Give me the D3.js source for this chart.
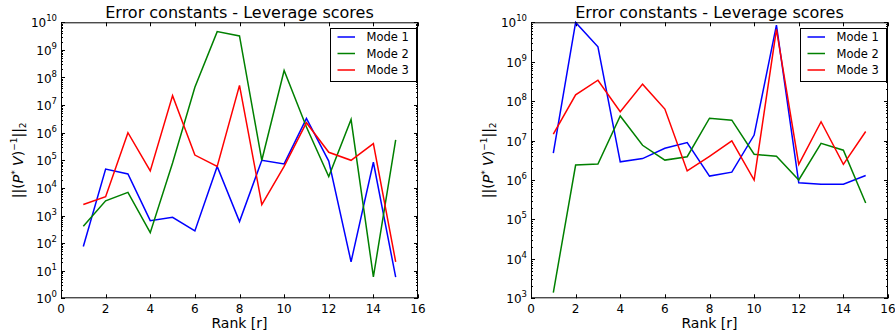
<!DOCTYPE html>
<html>
<head>
<meta charset="utf-8">
<script src="https://cdn.jsdelivr.net/npm/d3@7"></script>
<style>
  body { margin: 0; background: #fff; }
  svg { display: block; font-family: "DejaVu Sans", sans-serif; }
</style>
</head>
<body>
<div id="chart"></div>
<script>
const WIDTH = 895;
const HEIGHT = 333;

const ranks = [1, 2, 3, 4, 5, 6, 7, 8, 9, 10, 11, 12, 13, 14, 15];
const modeNames = ['Mode 1', 'Mode 2', 'Mode 3'];
const modeColors = ['#0000ff', '#008000', '#ff0000'];
const xTicks = [0, 2, 4, 6, 8, 10, 12, 14, 16];

// left panel
const leftMode1 = [75, 4.8e4, 3.2e4, 650, 860, 275, 6e4, 600, 1.0e5, 7.4e4, 3.3e6, 9.4e4, 21, 8.5e4, 5.8];
const leftMode2 = [410, 3400, 6900, 240, 8e4, 4.4e7, 4.6e9, 3.2e9, 1.0e5, 1.8e8, 1.6e6, 2.6e4, 3.0e6, 6, 5.5e5];
const leftMode3 = [2500, 4800, 1.0e6, 4.1e4, 2.2e7, 1.55e5, 6e4, 5.2e7, 2500, 6e4, 2.3e6, 1.95e5, 1.0e5, 4e5, 21];
const leftExponents = [0, 1, 2, 3, 4, 5, 6, 7, 8, 9, 10];

// right panel
const rightMode1 = [4.8e6, 9.9e9, 2.4e9, 2.9e6, 3.5e6, 6.4e6, 8.9e6, 1.26e6, 1.58e6, 1.38e7, 8.5e9, 8.5e5, 7.8e5, 7.8e5, 1.3e6];
const rightMode2 = [1.4e3, 2.4e6, 2.55e6, 4.2e7, 7.6e6, 3.2e6, 3.9e6, 3.7e7, 3.3e7, 4.5e6, 4.0e6, 1.0e6, 8.5e6, 5.7e6, 2.6e5];
const rightMode3 = [1.45e7, 1.45e8, 3.4e8, 5.4e7, 2.7e8, 6.3e7, 1.7e6, 4.0e6, 9.8e6, 1.0e6, 6.6e9, 2.5e6, 3.0e7, 2.5e6, 1.7e7];
const rightExponents = [3, 4, 5, 6, 7, 8, 9, 10];

const svg = d3.select('#chart')
  .append('svg')
  .attr('width', WIDTH)
  .attr('height', HEIGHT);

drawPanel({ left: 61, right: 418, labelX: 23 }, [leftMode1, leftMode2, leftMode3], leftExponents);
drawPanel({ left: 531, right: 888, labelX: 493 }, [rightMode1, rightMode2, rightMode3], rightExponents);

function drawPanel(box, series, exponents) {
  const top = 22.3;
  const bottom = 298.3;

  const x = d3.scaleLinear().domain([0, 16]).range([box.left, box.right]);
  const y = d3.scaleLog()
    .domain([Math.pow(10, exponents[0]), Math.pow(10, exponents[exponents.length - 1])])
    .range([bottom, top]);

  const g = svg.append('g');

  // minor ticks on log axis (2..9 per decade), both sides, inward
  const minor = [];
  exponents.slice(0, -1).forEach(e => {
    for (let k = 2; k <= 9; k++) minor.push(k * Math.pow(10, e));
  });
  g.selectAll('.minor')
    .data(minor)
    .join('g')
    .each(function (d) {
      const yy = Math.round(y(d)) + 0.5;
      d3.select(this).append('line')
        .attr('x1', box.left).attr('x2', box.left + 2)
        .attr('y1', yy).attr('y2', yy);
      d3.select(this).append('line')
        .attr('x1', box.right).attr('x2', box.right - 2)
        .attr('y1', yy).attr('y2', yy);
    })
    .attr('stroke', '#000')
    .attr('stroke-width', 1);

  // major y ticks
  g.selectAll('.ymajor')
    .data(exponents)
    .join('g')
    .each(function (e) {
      const yy = Math.round(y(Math.pow(10, e))) + 0.5;
      d3.select(this).append('line')
        .attr('x1', box.left).attr('x2', box.left + 4)
        .attr('y1', yy).attr('y2', yy);
      d3.select(this).append('line')
        .attr('x1', box.right).attr('x2', box.right - 4)
        .attr('y1', yy).attr('y2', yy);
    })
    .attr('stroke', '#000')
    .attr('stroke-width', 1);

  // major x ticks (bottom and top)
  g.selectAll('.xmajor')
    .data(xTicks)
    .join('g')
    .each(function (t) {
      const xx = Math.round(x(t)) + 0.5;
      d3.select(this).append('line')
        .attr('x1', xx).attr('x2', xx)
        .attr('y1', bottom).attr('y2', bottom - 4);
      d3.select(this).append('line')
        .attr('x1', xx).attr('x2', xx)
        .attr('y1', top).attr('y2', top + 4);
    })
    .attr('stroke', '#000')
    .attr('stroke-width', 1);

  // y tick labels 10^e
  const ylab = g.selectAll('.ylab')
    .data(exponents)
    .join('text')
    .attr('x', box.left - 4)
    .attr('y', e => y(Math.pow(10, e)) + 5)
    .attr('text-anchor', 'end')
    .attr('font-size', 12)
    .attr('fill', '#000');
  ylab.append('tspan').text('10');
  ylab.append('tspan')
    .attr('dy', -6)
    .attr('font-size', 8.5)
    .text(e => e);

  // x tick labels
  g.selectAll('.xlab')
    .data(xTicks)
    .join('text')
    .attr('x', t => x(t))
    .attr('y', bottom + 15)
    .attr('text-anchor', 'middle')
    .attr('font-size', 12)
    .attr('fill', '#000')
    .text(t => t);

  // data lines
  const line = d3.line()
    .x((d, i) => x(ranks[i]))
    .y(d => y(d));

  g.selectAll('.series')
    .data(series)
    .join('path')
    .attr('d', line)
    .attr('fill', 'none')
    .attr('stroke', (d, i) => modeColors[i])
    .attr('stroke-width', 1.5)
    .attr('stroke-linejoin', 'miter');

  // frame
  g.append('rect')
    .attr('x', box.left + 0.5)
    .attr('y', top + 0.5)
    .attr('width', box.right - box.left - 1)
    .attr('height', bottom - top - 1)
    .attr('fill', 'none')
    .attr('stroke', '#000')
    .attr('stroke-width', 1);

  // title
  g.append('text')
    .attr('x', (box.left + box.right) / 2)
    .attr('y', 18)
    .attr('text-anchor', 'middle')
    .attr('font-size', 16)
    .attr('fill', '#000')
    .text('Error constants - Leverage scores');

  // x label
  g.append('text')
    .attr('x', (box.left + box.right) / 2)
    .attr('y', 328)
    .attr('text-anchor', 'middle')
    .attr('font-size', 14)
    .attr('fill', '#000')
    .text('Rank [r]');

  // y label ||(P* V)^-1||_2
  const yl = g.append('text')
    .attr('transform', `translate(${box.labelX}, ${(top + bottom) / 2}) rotate(-90)`)
    .attr('text-anchor', 'middle')
    .attr('font-size', 14)
    .attr('fill', '#000');
  yl.append('tspan').text('||(');
  yl.append('tspan').attr('font-style', 'italic').text('P');
  yl.append('tspan').attr('font-size', 9).attr('dy', -5).text('*');
  yl.append('tspan').attr('dy', 5).text(' ');
  yl.append('tspan').attr('font-style', 'italic').text('V');
  yl.append('tspan').text(')');
  yl.append('tspan').attr('font-size', 9).attr('dy', -6).text('\u22121');
  yl.append('tspan').attr('dy', 6).text('||');
  yl.append('tspan').attr('font-size', 9).attr('dy', 3).text('2');

  // legend
  const legend = g.append('g')
    .attr('transform', `translate(${box.right - 88}, 28)`);
  legend.append('rect')
    .attr('x', 0.5).attr('y', 0.5)
    .attr('width', 86).attr('height', 53)
    .attr('fill', '#fff')
    .attr('stroke', '#000')
    .attr('stroke-width', 1);
  const rows = legend.selectAll('.row')
    .data(modeNames)
    .join('g')
    .attr('transform', (d, i) => `translate(0, ${9 + i * 16.5})`);
  rows.append('line')
    .attr('x1', 7.5).attr('x2', 25)
    .attr('y1', 0).attr('y2', 0)
    .attr('stroke', (d, i) => modeColors[i])
    .attr('stroke-width', 1.5);
  rows.append('text')
    .attr('x', 36.5)
    .attr('y', 4)
    .attr('font-size', 11.5)
    .attr('fill', '#000')
    .text(d => d);
}
</script>
</body>
</html>
